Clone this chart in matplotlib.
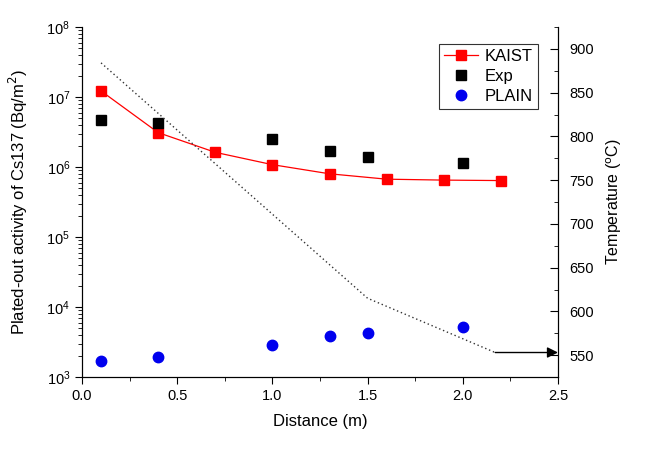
import matplotlib
matplotlib.use("Agg")
import matplotlib.pyplot as plt
from matplotlib.ticker import LogLocator, MultipleLocator, NullFormatter

plt.rcParams['font.family'] = ['Liberation Sans', 'DejaVu Sans']

# KAIST model (red line + squares)
kaist_x = [0.1, 0.4, 0.7, 1.0, 1.3, 1.6, 1.9, 2.2]
kaist_y = [1.22e7, 3.1e6, 1.62e6, 1.08e6, 8.0e5, 6.7e5, 6.5e5, 6.4e5]

# experiment (black squares)
exp_x = [0.1, 0.4, 1.0, 1.3, 1.5, 2.0]
exp_y = [4.7e6, 4.3e6, 2.5e6, 1.69e6, 1.39e6, 1.15e6]

# PLAIN code (blue circles)
plain_x = [0.1, 0.4, 1.0, 1.3, 1.5, 2.0]
plain_y = [1.68e3, 1.95e3, 2.9e3, 3.9e3, 4.2e3, 5.15e3]

# temperature profile (dotted, right axis)
temp_x = [0.1, 1.5, 2.17]
temp_y = [884, 615, 553]

fig = plt.figure(figsize=(6.54, 4.5), dpi=100)
ax = fig.add_axes([0.1254, 0.1622, 0.7278, 0.7778])

ax.plot(kaist_x, kaist_y, color='red', lw=0.9, marker='s', ms=7.5,
        mec='red', mfc='red', label='KAIST')
ax.plot(exp_x, exp_y, ls='none', marker='s', ms=6.5, color='black', label='Exp')
ax.plot(plain_x, plain_y, ls='none', marker='o', ms=7.5, color='#0000ee', label='PLAIN')

ax.set_yscale('log')
ax.set_ylim(1e3, 1e8)
ax.set_xlim(0, 2.5)
ax.xaxis.set_major_locator(MultipleLocator(0.5))
ax.xaxis.set_minor_locator(MultipleLocator(0.25))
ax.yaxis.set_major_locator(LogLocator(base=10, numticks=10))
ax.yaxis.set_minor_locator(LogLocator(base=10, subs=range(2, 10), numticks=10))
ax.yaxis.set_minor_formatter(NullFormatter())
ax.tick_params(axis='both', which='major', direction='out', length=5, labelsize=10.5)
ax.tick_params(axis='both', which='minor', direction='out', length=3)
ax.spines['top'].set_visible(False)
ax.set_xlabel('Distance (m)', fontsize=12, labelpad=8)
ax.set_ylabel('Plated-out activity of Cs137 (Bq/m$^2$)', fontsize=12, labelpad=12)

ax2 = ax.twinx()
ax2.plot(temp_x, temp_y, color='#333333', ls=(0, (1, 2)), lw=1.0)
ax2.annotate('', xy=(2.5, temp_y[-1]), xytext=(temp_x[-1], temp_y[-1]),
             arrowprops=dict(arrowstyle='-|>', color='black', lw=1.0,
                             mutation_scale=16, shrinkA=0, shrinkB=0))
ax2.set_ylim(525, 925)
ax2.set_xlim(0, 2.5)
ax2.yaxis.set_major_locator(MultipleLocator(50))
ax2.yaxis.set_minor_locator(MultipleLocator(25))
ax2.tick_params(axis='y', which='major', direction='in', length=6, labelsize=10.5, pad=8)
ax2.tick_params(axis='y', which='minor', direction='in', length=3)
ax2.spines['top'].set_visible(False)
ax2.set_ylabel('Temperature ($^{\\rm o}$C)', fontsize=11.5, labelpad=8)

leg = ax.legend(loc='upper right', bbox_to_anchor=(0.957, 0.952), fontsize=12,
                frameon=True, fancybox=False, edgecolor='black',
                handlelength=2.0, borderpad=0.3, labelspacing=0.3,
                handletextpad=0.4, borderaxespad=0)
leg.get_frame().set_linewidth(0.8)

fig.savefig('out.png', dpi=100)
